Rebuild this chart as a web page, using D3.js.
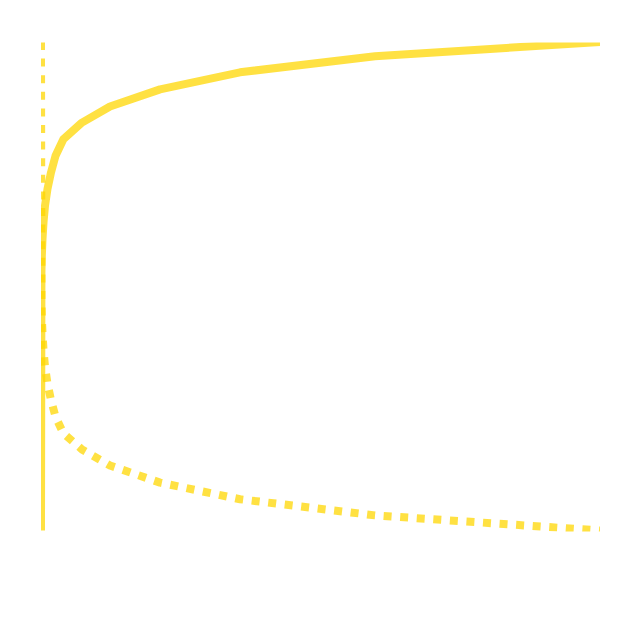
<!DOCTYPE html>
<html>
<head>
<meta charset="utf-8">
<script src="https://cdn.jsdelivr.net/npm/d3@7"></script>
<style>
  html, body { margin: 0; padding: 0; background: #ffffff; }
  svg { display: block; }
</style>
</head>
<body>
<svg id="chart" width="639" height="638"></svg>
<script>
// Values (normalised axes 0..1)
const xValues  = [0, 0.0008, 0.0015, 0.0027, 0.0045, 0.0072, 0.0116, 0.0179, 0.026, 0.04, 0.0733, 0.1234, 0.213, 0.356, 0.5975, 1.0];
const solidY   = [0, 0.529, 0.563, 0.597, 0.631, 0.665, 0.699, 0.733, 0.767, 0.801, 0.835, 0.868, 0.903, 0.938, 0.971, 1.0];
const dottedY  = [1, 0.471, 0.437, 0.403, 0.369, 0.335, 0.301, 0.267, 0.233, 0.199, 0.166, 0.133, 0.098, 0.064, 0.031, 0];

const series = [
  { name: "solid",  y: solidY,  dash: null },
  { name: "dotted", y: dottedY, dash: "8 8.6" }
];

const svg = d3.select("#chart");
const plot = { left: 41, right: 600, top: 42.6, bottom: 531.5 };

const x = d3.scaleLinear().domain([0, 1]).range([41, 600]);
const y = d3.scaleLinear().domain([0, 1]).range([530.5, 42]);

svg.append("defs").append("clipPath").attr("id", "clip")
  .append("rect")
  .attr("x", plot.left).attr("y", plot.top)
  .attr("width", plot.right - plot.left)
  .attr("height", plot.bottom - plot.top);

const line = d3.line()
  .x(d => x(d[0]))
  .y(d => y(d[1]));

const g = svg.append("g").attr("clip-path", "url(#clip)");

series.forEach(s => {
  const pts = xValues.map((xv, i) => [xv, s.y[i]]);
  const p = g.append("path")
    .datum(pts)
    .attr("d", line)
    .attr("fill", "none")
    .attr("stroke", "#FFD700")
    .attr("stroke-opacity", 0.74)
    .attr("stroke-width", 8)
    .attr("stroke-linejoin", "round");
  if (s.dash) {
    p.attr("stroke-dasharray", s.dash);
  }
});
</script>
</body>
</html>
